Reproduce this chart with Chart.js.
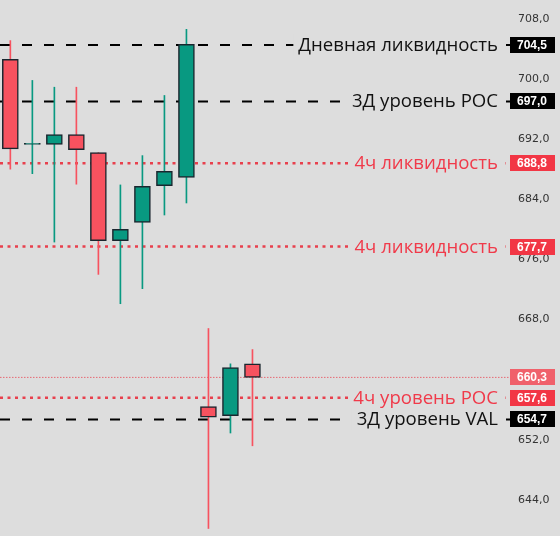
<!DOCTYPE html>
<html>
<head>
<meta charset="utf-8">
<script src="https://cdn.jsdelivr.net/npm/chart.js@4.4.1/dist/chart.umd.min.js"></script>
<style>
  html, body { margin: 0; padding: 0; background: #dddddd; }
  canvas { display: block; }
</style>
</head>
<body>
<canvas id="priceChart" width="560" height="536"></canvas>
<script>
// candles, left to right
const candleIndex = [0, 1, 2, 3, 4, 5, 6, 7, 8, 9, 10, 11];
const opens  = [702.6, 691.3, 691.3, 692.6, 690.2, 678.5, 680.9, 685.8, 686.9, 656.4, 655.2, 662.1];
const highs  = [705.1, 699.8, 698.9, 698.9, 690.2, 685.9, 689.8, 697.8, 706.6, 666.8, 662.1, 664.0];
const lows   = [688.0, 687.4, 678.3, 686.0, 674.0, 670.1, 672.1, 681.9, 683.5, 640.2, 652.9, 651.2];
const closes = [690.7, 691.3, 692.6, 690.6, 678.5, 680.0, 685.7, 687.7, 704.6, 655.0, 661.6, 660.3];

// horizontal levels
const levelValues = [704.5, 697.0, 688.8, 677.7, 660.3, 657.6, 654.7];
const levelNames = ["Дневная ликвидность", "3Д уровень POC", "4ч ликвидность", "4ч ликвидность", "", "4ч уровень POC", "3Д уровень VAL"];
const levelKinds = ["daily", "daily", "h4", "h4", "last", "h4", "daily"];

// right axis
const tickValues = [708, 700, 692, 684, 676, 668, 660, 652, 644];

const UP = "#089981";
const DOWN = "#f7525f";
const EDGE = "#1a262e";
const BG = "#dddddd";
const X_MIN = -0.47, X_MAX = 22.7;

const levelStyle = {
  daily: { line: "#000000", width: 2, dash: [10, 12], tag: "#000000", text: "#111111" },
  h4:    { line: "#e8404d", width: 2.5, dash: [3, 4.5], tag: "#f23645", text: "#f03a4a" },
  last:  { line: "#e66872", width: 1, dash: [1.5, 1.5], tag: "#f0616b", text: "#f03a4a" }
};

const fmt = (v) => v.toFixed(1).replace(".", ",");

// ===================================
// DATASETS
// ===================================
const candleColors = candleIndex.map((i) => (closes[i] >= opens[i] ? UP : DOWN));

const wickData = candleIndex.map((i) => ({ x: i, y: [lows[i], highs[i]] }));
const bodyData = candleIndex.map((i) => ({ x: i, y: [opens[i], closes[i]] }));

const levelDatasets = levelValues.map((v, k) => {
  const st = levelStyle[levelKinds[k]];
  return {
    type: "line",
    data: [{ x: X_MIN, y: v }, { x: X_MAX, y: v }],
    borderColor: st.line,
    borderWidth: st.width,
    borderDash: st.dash,
    pointRadius: 0,
    order: 3
  };
});

// ===================================
// LABELS + PRICE TAGS
// ===================================
const levelLabels = {
  id: "levelLabels",
  afterDraw(chart) {
    const { ctx } = chart;
    const y = chart.scales.y;
    ctx.save();
    levelValues.forEach((v, k) => {
      const st = levelStyle[levelKinds[k]];
      const py = Math.round(y.getPixelForValue(v));
      const name = levelNames[k];
      if (name) {
        ctx.font = "18.6px 'Open Sans'";
        const w = ctx.measureText(name).width;
        const right = 498;
        ctx.fillStyle = BG;
        ctx.fillRect(right - w - 5, py - 11, w + 12, 22);
        ctx.fillStyle = st.text;
        ctx.textAlign = "right";
        ctx.textBaseline = "middle";
        ctx.fillText(name, right, py + 1);
      }
      ctx.fillStyle = st.tag;
      ctx.fillRect(510, py - 8, 45, 16);
      ctx.font = "bold 12px 'Liberation Sans'";
      ctx.fillStyle = "#ffffff";
      ctx.textAlign = "center";
      ctx.textBaseline = "middle";
      ctx.fillText(fmt(v), 532, py + 0.5);
    });
    ctx.restore();
  }
};

const ctx = document.getElementById("priceChart");
new Chart(ctx, {
  type: "bar",
  data: {
    datasets: [
      {
        data: bodyData,
        backgroundColor: candleColors,
        borderColor: EDGE,
        borderWidth: 1.5,
        borderSkipped: false,
        barThickness: 16,
        minBarLength: 1,
        grouped: false,
        order: 0
      },
      {
        data: wickData,
        backgroundColor: candleColors,
        borderWidth: 0,
        barThickness: 1,
        grouped: false,
        order: 1
      },
      ...levelDatasets
    ]
  },
  options: {
    responsive: false,
    animation: false,
    layout: { padding: 0 },
    plugins: { legend: { display: false }, tooltip: { enabled: false } },
    scales: {
      x: { type: "linear", min: X_MIN, max: X_MAX, offset: false, display: false },
      y: {
        position: "right",
        min: 639.2,
        max: 710.5,
        afterBuildTicks: (s) => { s.ticks = tickValues.map((v) => ({ value: v })); },
        afterFit: (s) => { s.width = 50; s.paddingTop = 0; s.paddingBottom = 0; },
        grid: { display: false, drawTicks: false },
        border: { display: false },
        ticks: {
          crossAlign: "near",
          padding: 8,
          color: "#333333",
          font: { family: "'DejaVu Sans'", size: 11 },
          callback: (v) => fmt(v)
        }
      }
    }
  },
  plugins: [levelLabels]
});
</script>
</body>
</html>
